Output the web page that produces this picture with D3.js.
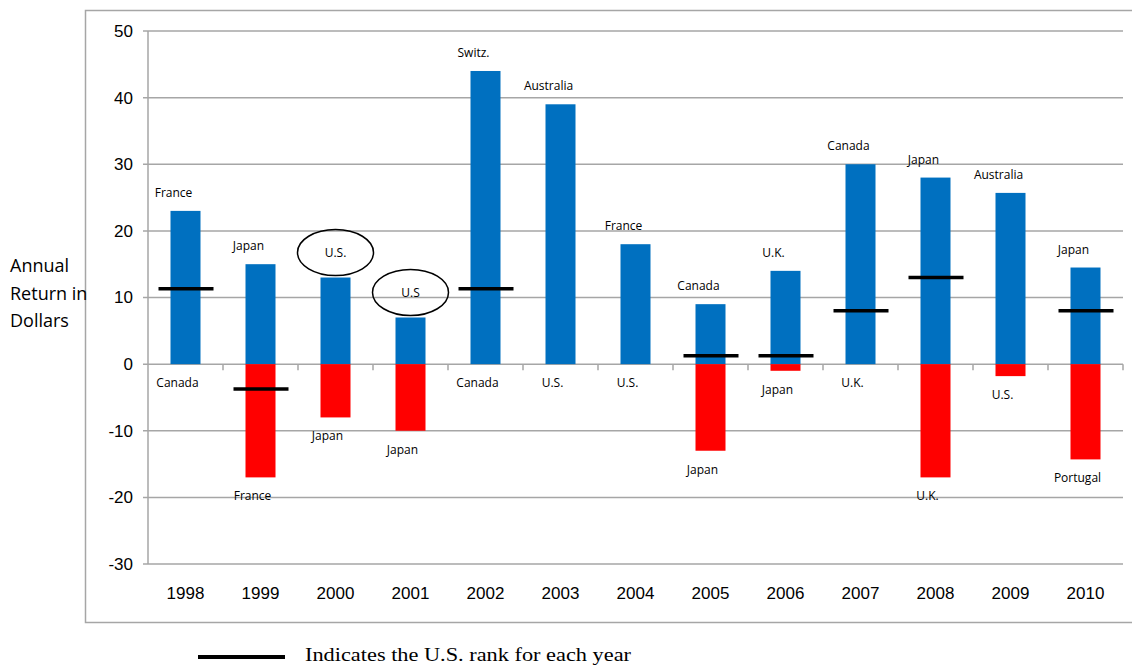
<!DOCTYPE html>
<html>
<head>
<meta charset="utf-8">
<script src="https://cdn.jsdelivr.net/npm/d3@7"></script>
<style>
  body { margin: 0; background: #fff; }
  svg { display: block; }
</style>
</head>
<body>
<svg id="chart" width="1132" height="665"></svg>
<script>
// data
const years = ["1998","1999","2000","2001","2002","2003","2004","2005","2006","2007","2008","2009","2010"];
const bestReturn = [23, 15, 13, 7, 44, 39, 18, 9, 14, 30, 28, 25.7, 14.5];
const worstReturn = [0, -17, -8, -10, 0, 0, 0, -13, -1, 0, -17, -1.8, -14.3];
const bestCountry = ["France","Japan","U.S.","U.S","Switz.","Australia","France","Canada","U.K.","Canada","Japan","Australia","Japan"];
const worstCountry = ["Canada","France","Japan","Japan","Canada","U.S.","U.S.","Japan","Japan","U.K.","U.K.","U.S.","Portugal"];
// U.S. rank marker (null where the U.S. was best or worst)
const usReturn = [11.3, -3.75, null, null, 11.3, null, null, 1.25, 1.25, 8, 13, null, 8];
const yTicks = [50, 40, 30, 20, 10, 0, -10, -20, -30];

const svg = d3.select("#chart");
const margin = {left: 148, right: 1123, top: 31, bottom: 564};

const x = d3.scaleBand().domain(years).range([margin.left, margin.right]);
const y = d3.scaleLinear().domain([-30, 50]).range([margin.bottom, margin.top]);

// outer frame
svg.append("rect")
    .attr("x", 85.5).attr("y", 10.5)
    .attr("width", 1060).attr("height", 612)
    .attr("fill", "none")
    .attr("stroke", "#a6a6a6")
    .attr("stroke-width", 1.5);

// gridlines
svg.append("g")
    .selectAll("line")
    .data(yTicks)
    .enter().append("line")
    .attr("x1", margin.left - 5)
    .attr("x2", margin.right)
    .attr("y1", d => y(d))
    .attr("y2", d => y(d))
    .attr("stroke", "#a6a6a6")
    .attr("stroke-width", 1.5);

// y axis line
svg.append("line")
    .attr("x1", margin.left).attr("x2", margin.left)
    .attr("y1", y(50)).attr("y2", y(-30))
    .attr("stroke", "#a6a6a6")
    .attr("stroke-width", 1.5);

// y tick labels
svg.append("g")
    .attr("font-family", "Liberation Sans, Arial, sans-serif")
    .attr("font-size", 17)
    .attr("text-anchor", "end")
    .selectAll("text")
    .data(yTicks)
    .enter().append("text")
    .attr("x", 133)
    .attr("y", d => y(d))
    .attr("dy", "0.35em")
    .text(d => d);

// x ticks on the zero line
svg.append("g")
    .selectAll("line")
    .data(years)
    .enter().append("line")
    .attr("x1", d => x(d) + x.bandwidth())
    .attr("x2", d => x(d) + x.bandwidth())
    .attr("y1", y(0))
    .attr("y2", y(0) + 6)
    .attr("stroke", "#a6a6a6")
    .attr("stroke-width", 1.5);

// year labels
svg.append("g")
    .attr("font-family", "Liberation Sans Narrow, Liberation Sans, Arial, sans-serif")
    .attr("font-size", 17)
    .attr("text-anchor", "middle")
    .selectAll("text")
    .data(years)
    .enter().append("text")
    .attr("x", d => x(d) + x.bandwidth() / 2)
    .attr("y", 599)
    .text(d => d);

const barW = 30;
const cx = i => x(years[i]) + x.bandwidth() / 2;

// best (blue) bars
svg.append("g")
    .selectAll("rect")
    .data(bestReturn)
    .enter().append("rect")
    .attr("x", (d, i) => cx(i) - barW / 2)
    .attr("y", d => y(d))
    .attr("width", barW)
    .attr("height", d => y(0) - y(d))
    .attr("fill", "#0070c0");

// worst (red) bars
svg.append("g")
    .selectAll("rect")
    .data(worstReturn)
    .enter().append("rect")
    .attr("x", (d, i) => cx(i) - barW / 2)
    .attr("y", y(0))
    .attr("width", barW)
    .attr("height", d => y(d) - y(0))
    .attr("fill", "#ff0000");

// U.S. rank markers
svg.append("g")
    .selectAll("line")
    .data(usReturn.map((v, i) => ({v, i})).filter(d => d.v !== null))
    .enter().append("line")
    .attr("x1", d => cx(d.i) - 27)
    .attr("x2", d => cx(d.i) + 28)
    .attr("y1", d => y(d.v))
    .attr("y2", d => y(d.v))
    .attr("stroke", "#000")
    .attr("stroke-width", 3.5);

const labelFont = "Open Sans, Noto Sans, sans-serif";

// best country labels
const isUS = c => c.startsWith("U.S");
const bestLabels = svg.append("g")
    .attr("font-family", labelFont)
    .attr("font-size", 12)
    .attr("text-anchor", "middle");

bestCountry.forEach((c, i) => {
    if (isUS(c)) {
        const ey = y(bestReturn[i]) - 25;
        bestLabels.append("ellipse")
            .attr("cx", cx(i))
            .attr("cy", ey)
            .attr("rx", 38)
            .attr("ry", 23)
            .attr("fill", "none")
            .attr("stroke", "#000")
            .attr("stroke-width", 1.5);
        bestLabels.append("text")
            .attr("x", cx(i))
            .attr("y", ey)
            .attr("dy", "0.35em")
            .text(c);
    } else {
        bestLabels.append("text")
            .attr("x", cx(i) - 12)
            .attr("y", y(bestReturn[i]) - 14)
            .text(c);
    }
});

// worst country labels
svg.append("g")
    .attr("font-family", labelFont)
    .attr("font-size", 12)
    .attr("text-anchor", "middle")
    .selectAll("text")
    .data(worstCountry)
    .enter().append("text")
    .attr("x", (d, i) => cx(i) - 8)
    .attr("y", (d, i) => y(worstReturn[i]) + 23)
    .text(d => d);

// y axis title
svg.append("text")
    .attr("font-family", labelFont)
    .attr("font-size", 18)
    .selectAll("tspan")
    .data(["Annual", "Return in", "Dollars"])
    .enter().append("tspan")
    .attr("x", 10)
    .attr("y", (d, i) => 272 + i * 27.5)
    .text(d => d);

// legend
svg.append("line")
    .attr("x1", 198).attr("x2", 285)
    .attr("y1", 657).attr("y2", 657)
    .attr("stroke", "#000")
    .attr("stroke-width", 4);

svg.append("text")
    .attr("x", 305)
    .attr("y", 661)
    .attr("font-family", "Liberation Serif, Times New Roman, serif")
    .attr("font-size", 19)
    .attr("textLength", 326)
    .attr("lengthAdjust", "spacingAndGlyphs")
    .text("Indicates the U.S. rank for each year");
</script>
</body>
</html>
